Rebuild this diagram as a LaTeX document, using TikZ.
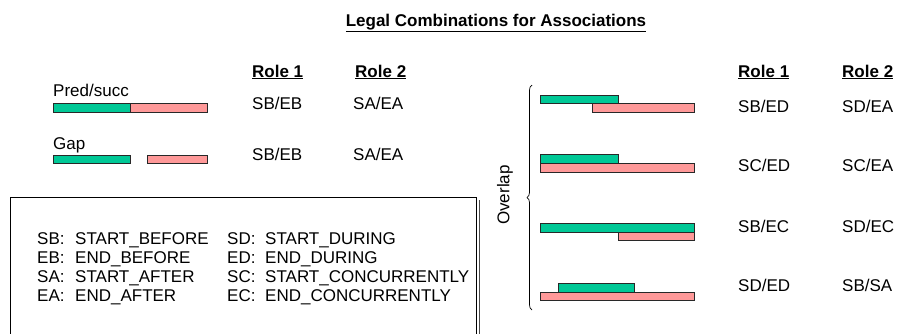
\documentclass[tikz,border=0pt]{standalone}
\usepackage{fontspec}
\setmainfont{Liberation Sans}
\usetikzlibrary{decorations.pathreplacing}
\definecolor{barteal}{RGB}{0,200,150}
\definecolor{barpink}{RGB}{255,153,153}
\definecolor{barline}{RGB}{40,40,40}
\begin{document}
\begin{tikzpicture}[x=1pt,y=-1pt,
  txt/.style={anchor=base west, inner sep=0pt, font=\fontsize{17}{20}\selectfont},
  head/.style={txt, font=\fontsize{17}{20}\selectfont\bfseries},
  first/.style={draw=barline, line width=0.9pt, fill=barteal},
  second/.style={draw=barline, line width=0.9pt, fill=barpink},
  frameline/.style={line width=1pt, draw=black}]
\useasboundingbox (0,0) rectangle (898,333);

% title
\node[inner sep=0pt, anchor=base, font=\fontsize{17}{20}\selectfont\bfseries] (title) at (496,26) {\underline{Legal Combinations for Associations}};

% left block: headings
\node[head] (l1h) at (252,77) {\underline{Role 1}};
\node[head] (l2h) at (355,77) {\underline{Role 2}};

% pred/succ
\node[txt] (pslbl) at (53,96) {Pred/succ};
\draw[first]  (53,103) rectangle (130,112);
\draw[second] (130,103) rectangle (207,112);
\node[txt] (ps1) at (252,109) {SB/EB};
\node[txt] (ps2) at (353,109) {SA/EA};

% gap
\node[txt] (gaplbl) at (53,149) {Gap};
\draw[first]  (53,155) rectangle (130,163);
\draw[second] (147,155) rectangle (207,163);
\node[txt] (gp1) at (252,160) {SB/EB};
\node[txt] (gp2) at (353,160) {SA/EA};

% legend frame
\draw[frameline] (10,340) -- (10,197) -- (476,197) -- (476,340);
\draw[line width=0.8pt, black!70] (479,200) -- (479,340);

\node[txt] (k1) at (37,244) {SB:};  \node[txt] (v1) at (75,244) {START\_BEFORE};
\node[txt] (k2) at (37,263) {EB:};  \node[txt] (v2) at (75,263) {END\_BEFORE};
\node[txt] (k3) at (37,282) {SA:};  \node[txt] (v3) at (75,282) {START\_AFTER};
\node[txt] (k4) at (37,301) {EA:};  \node[txt] (v4) at (75,301) {END\_AFTER};
\node[txt] (k5) at (227,244) {SD:}; \node[txt] (v5) at (265,244) {START\_DURING};
\node[txt] (k6) at (227,263) {ED:}; \node[txt] (v6) at (265,263) {END\_DURING};
\node[txt] (k7) at (227,282) {SC:}; \node[txt] (v7) at (265,282) {START\_CONCURRENTLY};
\node[txt] (k8) at (227,301) {EC:}; \node[txt] (v8) at (265,301) {END\_CONCURRENTLY};

% overlap brace
\draw[line width=0.7pt, decorate, decoration={brace, amplitude=5pt}] (532,310) -- (532,85);
\node[inner sep=0pt, rotate=90, font=\fontsize{17}{20}\selectfont] (ovl) at (505,195) {Overlap};

% right block: headings
\node[head] (r1h) at (738,77) {\underline{Role 1}};
\node[head] (r2h) at (842,77) {\underline{Role 2}};

% overlap cases
\draw[first]  (540,95) rectangle (618,103);
\draw[second] (592,103) rectangle (694,112);
\node[txt] (o1a) at (738,112) {SB/ED};
\node[txt] (o1b) at (842,112) {SD/EA};

\draw[first]  (540,154) rectangle (618,163);
\draw[second] (540,163) rectangle (694,172);
\node[txt] (o2a) at (738,171) {SC/ED};
\node[txt] (o2b) at (842,171) {SC/EA};

\draw[first]  (540,223) rectangle (694,232);
\draw[second] (618,232) rectangle (694,240);
\node[txt] (o3a) at (738,232) {SB/EC};
\node[txt] (o3b) at (842,232) {SD/EC};

\draw[first]  (558,283) rectangle (634,292);
\draw[second] (540,292) rectangle (694,300);
\node[txt] (o4a) at (738,291) {SD/ED};
\node[txt] (o4b) at (842,291) {SB/SA};
\end{tikzpicture}
\end{document}
